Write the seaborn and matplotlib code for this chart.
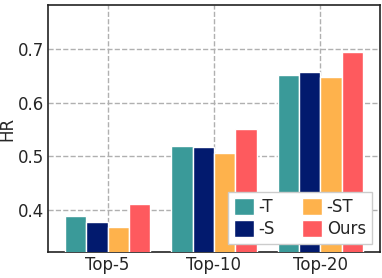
import pandas as pd
import matplotlib
import matplotlib.pyplot as plt
import seaborn as sns

matplotlib.use("Agg")

# 数据
topk = ["Top-5", "Top-10", "Top-20"]
variants = ["-T", "-S", "-ST", "Ours"]
hr_t = [0.389, 0.520, 0.651]
hr_s = [0.377, 0.518, 0.657]
hr_st = [0.369, 0.507, 0.648]
hr_ours = [0.412, 0.552, 0.694]
colors = ["#3a9a99", "#021a6e", "#feb24c", "#fe5a5e"]

df = pd.DataFrame({
    "topk": topk * 4,
    "variant": [v for v in variants for _ in topk],
    "HR": hr_t + hr_s + hr_st + hr_ours,
})

sns.set_style("ticks")
plt.rcParams["font.family"] = ["DejaVu Sans"]

fig, ax = plt.subplots(figsize=(3.82, 2.78), dpi=100)
fig.subplots_adjust(left=48 / 382, right=380 / 382, top=1 - 5 / 278, bottom=1 - 252 / 278)

sns.barplot(data=df, x="topk", y="HR", hue="variant", palette=colors, saturation=1,
            width=0.8, edgecolor="white", linewidth=1, ax=ax, zorder=3)

ax.set_ylim(0.322, 0.782)
ax.set_xlim(-0.56, 2.56)
ax.set_yticks([0.4, 0.5, 0.6, 0.7])
ax.grid(True, linestyle="--", color="#b0b0b0", linewidth=1, zorder=0)
ax.set_axisbelow(True)
ax.tick_params(axis="both", length=0, labelsize=12, pad=3)
ax.set_xlabel("")
ax.set_ylabel("HR", fontsize=12, labelpad=1)
for s in ax.spines.values():
    s.set_color("#222222")
    s.set_linewidth(1.2)

ax.legend(loc="lower right", ncol=2, fontsize=12, handlelength=1.2, handleheight=1.2,
          columnspacing=1.6, handletextpad=0.3, labelspacing=0.2, borderpad=0.35,
          fancybox=False, framealpha=1, edgecolor="#cccccc", borderaxespad=0.5)

fig.savefig("out.png", dpi=100)
